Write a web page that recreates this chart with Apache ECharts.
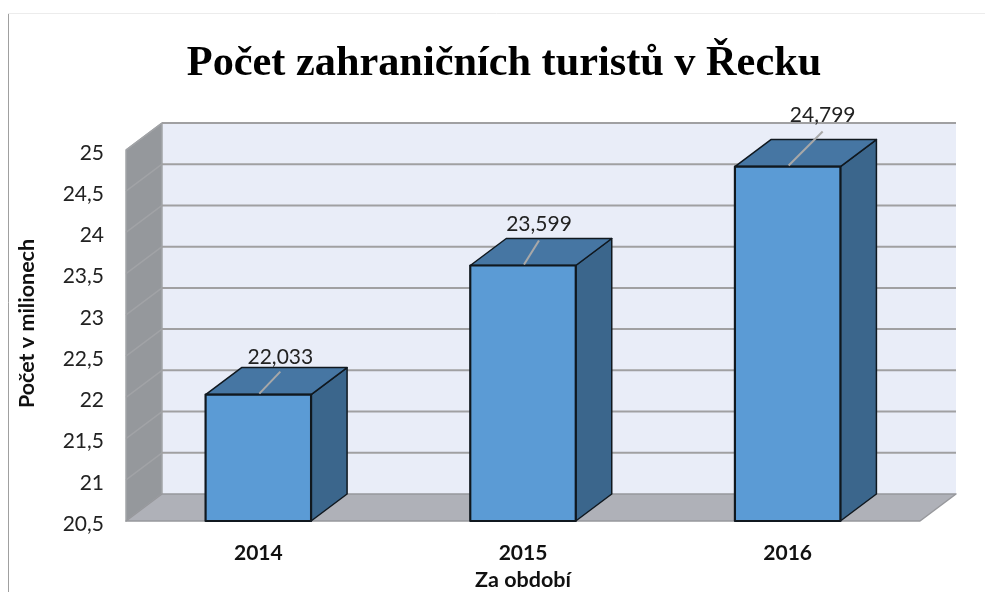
<!DOCTYPE html>
<html>
<head>
<meta charset="utf-8">
<style>
  html, body { margin: 0; padding: 0; background: #fff; }
  #main { width: 985px; height: 592px; }
</style>
<script src="https://cdn.jsdelivr.net/npm/echarts@6/dist/echarts.min.js"></script>
</head>
<body>
<div id="main"></div>
<script>
var categories = ['2014', '2015', '2016'];
var values = [22.033, 23.599, 24.799];
var yTicks = [20.5, 21, 21.5, 22, 22.5, 23, 23.5, 24, 24.5, 25];

// 3D look: how far the back wall sits from the front plane
var depthX = 36;
var depthY = -27;
var barWidth = 105.5;
// leader line end for each bar label, relative to the top of the bar
var leaderX = [22, 16, 35];
var leaderY = [-23, -25, -35];
var labelLift = [14, 16, 16];

function comma(v, digits) {
    return v.toFixed(digits).replace('.', ',');
}

function poly(points, fill, stroke, lineWidth) {
    return {
        type: 'polygon',
        shape: { points: points },
        style: { fill: fill, stroke: stroke, lineWidth: lineWidth || 0, lineJoin: 'round' }
    };
}

// walls and floor
function renderWalls(params, api) {
    var cs = params.coordSys;
    var l = cs.x, r = cs.x + cs.width, t = cs.y, b = cs.y + cs.height;
    return {
        type: 'group',
        children: [
            poly([[l + depthX, t + depthY], [r + depthX, t + depthY], [r + depthX, b + depthY], [l + depthX, b + depthY]], '#e9edf8'),
            poly([[l, t], [l + depthX, t + depthY], [l + depthX, b + depthY], [l, b]], '#95989c', '#a3a5a8', 1.5),
            poly([[l, b], [r, b], [r + depthX, b + depthY], [l + depthX, b + depthY]], '#afb1b8', '#97989c', 1.5)
        ]
    };
}

// one gridline per tick: across the side wall, then along the back wall
function renderGrid(params, api) {
    var cs = params.coordSys;
    var y = api.coord([0, api.value(0)])[1];
    var tick = api.value(0);
    var children = [];
    if (tick !== yTicks[0]) {
        children.push({
            type: 'line',
            shape: { x1: cs.x, y1: y, x2: cs.x + depthX, y2: y + depthY },
            style: { stroke: '#a1a3a6', lineWidth: 1.5 }
        });
        children.push({
            type: 'line',
            shape: { x1: cs.x + depthX, y1: y + depthY, x2: cs.x + cs.width + depthX, y2: y + depthY },
            style: { stroke: '#a0a0a2', lineWidth: 2 }
        });
    }
    return { type: 'group', children: children };
}

function renderBar(params, api) {
    var i = params.dataIndex;
    var p = api.coord([api.value(0), api.value(1)]);
    var base = api.coord([api.value(0), yTicks[0]]);
    var x0 = p[0] - barWidth / 2, x1 = p[0] + barWidth / 2;
    var top = p[1], bot = base[1];
    var edge = '#10181f';
    return {
        type: 'group',
        children: [
            poly([[x1, top], [x1 + depthX, top + depthY], [x1 + depthX, bot + depthY], [x1, bot]], '#3b668c', edge, 1.5),
            poly([[x0, top], [x1, top], [x1 + depthX, top + depthY], [x0 + depthX, top + depthY]], '#4676a3', edge, 1.5),
            poly([[x0, top], [x1, top], [x1, bot], [x0, bot]], '#5b9bd5', edge, 2.2),
            {
                type: 'line',
                shape: { x1: p[0] + 1, y1: top - 1, x2: p[0] + leaderX[i], y2: top + leaderY[i] },
                style: { stroke: '#a8a8a8', lineWidth: 2 }
            },
            {
                type: 'text',
                x: p[0] + leaderX[i],
                y: top + leaderY[i] - labelLift[i],
                style: {
                    text: comma(api.value(1), 3),
                    fill: '#222',
                    font: '21px Lato',
                    align: 'center',
                    verticalAlign: 'middle'
                }
            }
        ]
    };
}

var myChart = echarts.init(document.getElementById('main'), null, { renderer: 'canvas' });

var option = {
    animation: false,
    backgroundColor: '#fff',
    title: {
        text: 'Počet zahraničních turistů v Řecku',
        left: 499,
        top: 38,
        textAlign: 'center',
        textStyle: {
            fontFamily: 'Liberation Serif',
            fontWeight: 'bold',
            fontSize: 42.3,
            color: '#000'
        }
    },
    graphic: [
        { type: 'line', shape: { x1: 8.5, y1: 13, x2: 8.5, y2: 592 }, style: { stroke: '#a0a0a0', lineWidth: 1 } },
        { type: 'line', shape: { x1: 8, y1: 13.5, x2: 985, y2: 13.5 }, style: { stroke: '#ececec', lineWidth: 1 } }
    ],
    grid: { left: 126, right: 65, top: 150, height: 371, outerBoundsMode: 'none' },
    xAxis: {
        type: 'category',
        data: categories,
        name: 'Za období',
        nameLocation: 'middle',
        nameGap: 47,
        nameTextStyle: { fontFamily: 'Lato', fontWeight: 'bold', fontSize: 21.5, color: '#111' },
        axisLine: { show: false },
        axisTick: { show: false },
        splitLine: { show: false },
        axisLabel: { fontFamily: 'Lato', fontWeight: 'bold', fontSize: 21, color: '#111', margin: 22 }
    },
    yAxis: {
        type: 'value',
        min: 20.5,
        max: 25,
        interval: 0.5,
        name: 'Počet v milionech',
        nameLocation: 'middle',
        nameGap: 88,
        nameTextStyle: { fontFamily: 'Lato', fontWeight: 'bold', fontSize: 21.5, color: '#111', padding: [0, 0, 0, 24] },
        axisLine: { show: false },
        axisTick: { show: false },
        splitLine: { show: false },
        axisLabel: {
            margin: 22,
            formatter: function (v) { return '{t|' + String(v).replace('.', ',') + '}'; },
            rich: {
                t: { fontFamily: 'Lato', fontSize: 21, color: '#222', padding: [6, 0, 0, 0] }
            }
        }
    },
    series: [
        {
            type: 'custom',
            name: 'walls',
            data: [0],
            z: 1,
            silent: true,
            clip: false,
            encode: { x: [], y: [] },
            renderItem: renderWalls
        },
        {
            type: 'custom',
            name: 'grid',
            data: yTicks.map(function (t) { return [t]; }),
            z: 2,
            silent: true,
            clip: false,
            encode: { y: 0 },
            renderItem: renderGrid
        },
        {
            type: 'custom',
            name: 'Počet',
            data: values.map(function (v, i) { return [i, v]; }),
            z: 3,
            clip: false,
            encode: { x: 0, y: 1 },
            renderItem: renderBar
        }
    ]
};
option && myChart.setOption(option);
</script>
</body>
</html>
